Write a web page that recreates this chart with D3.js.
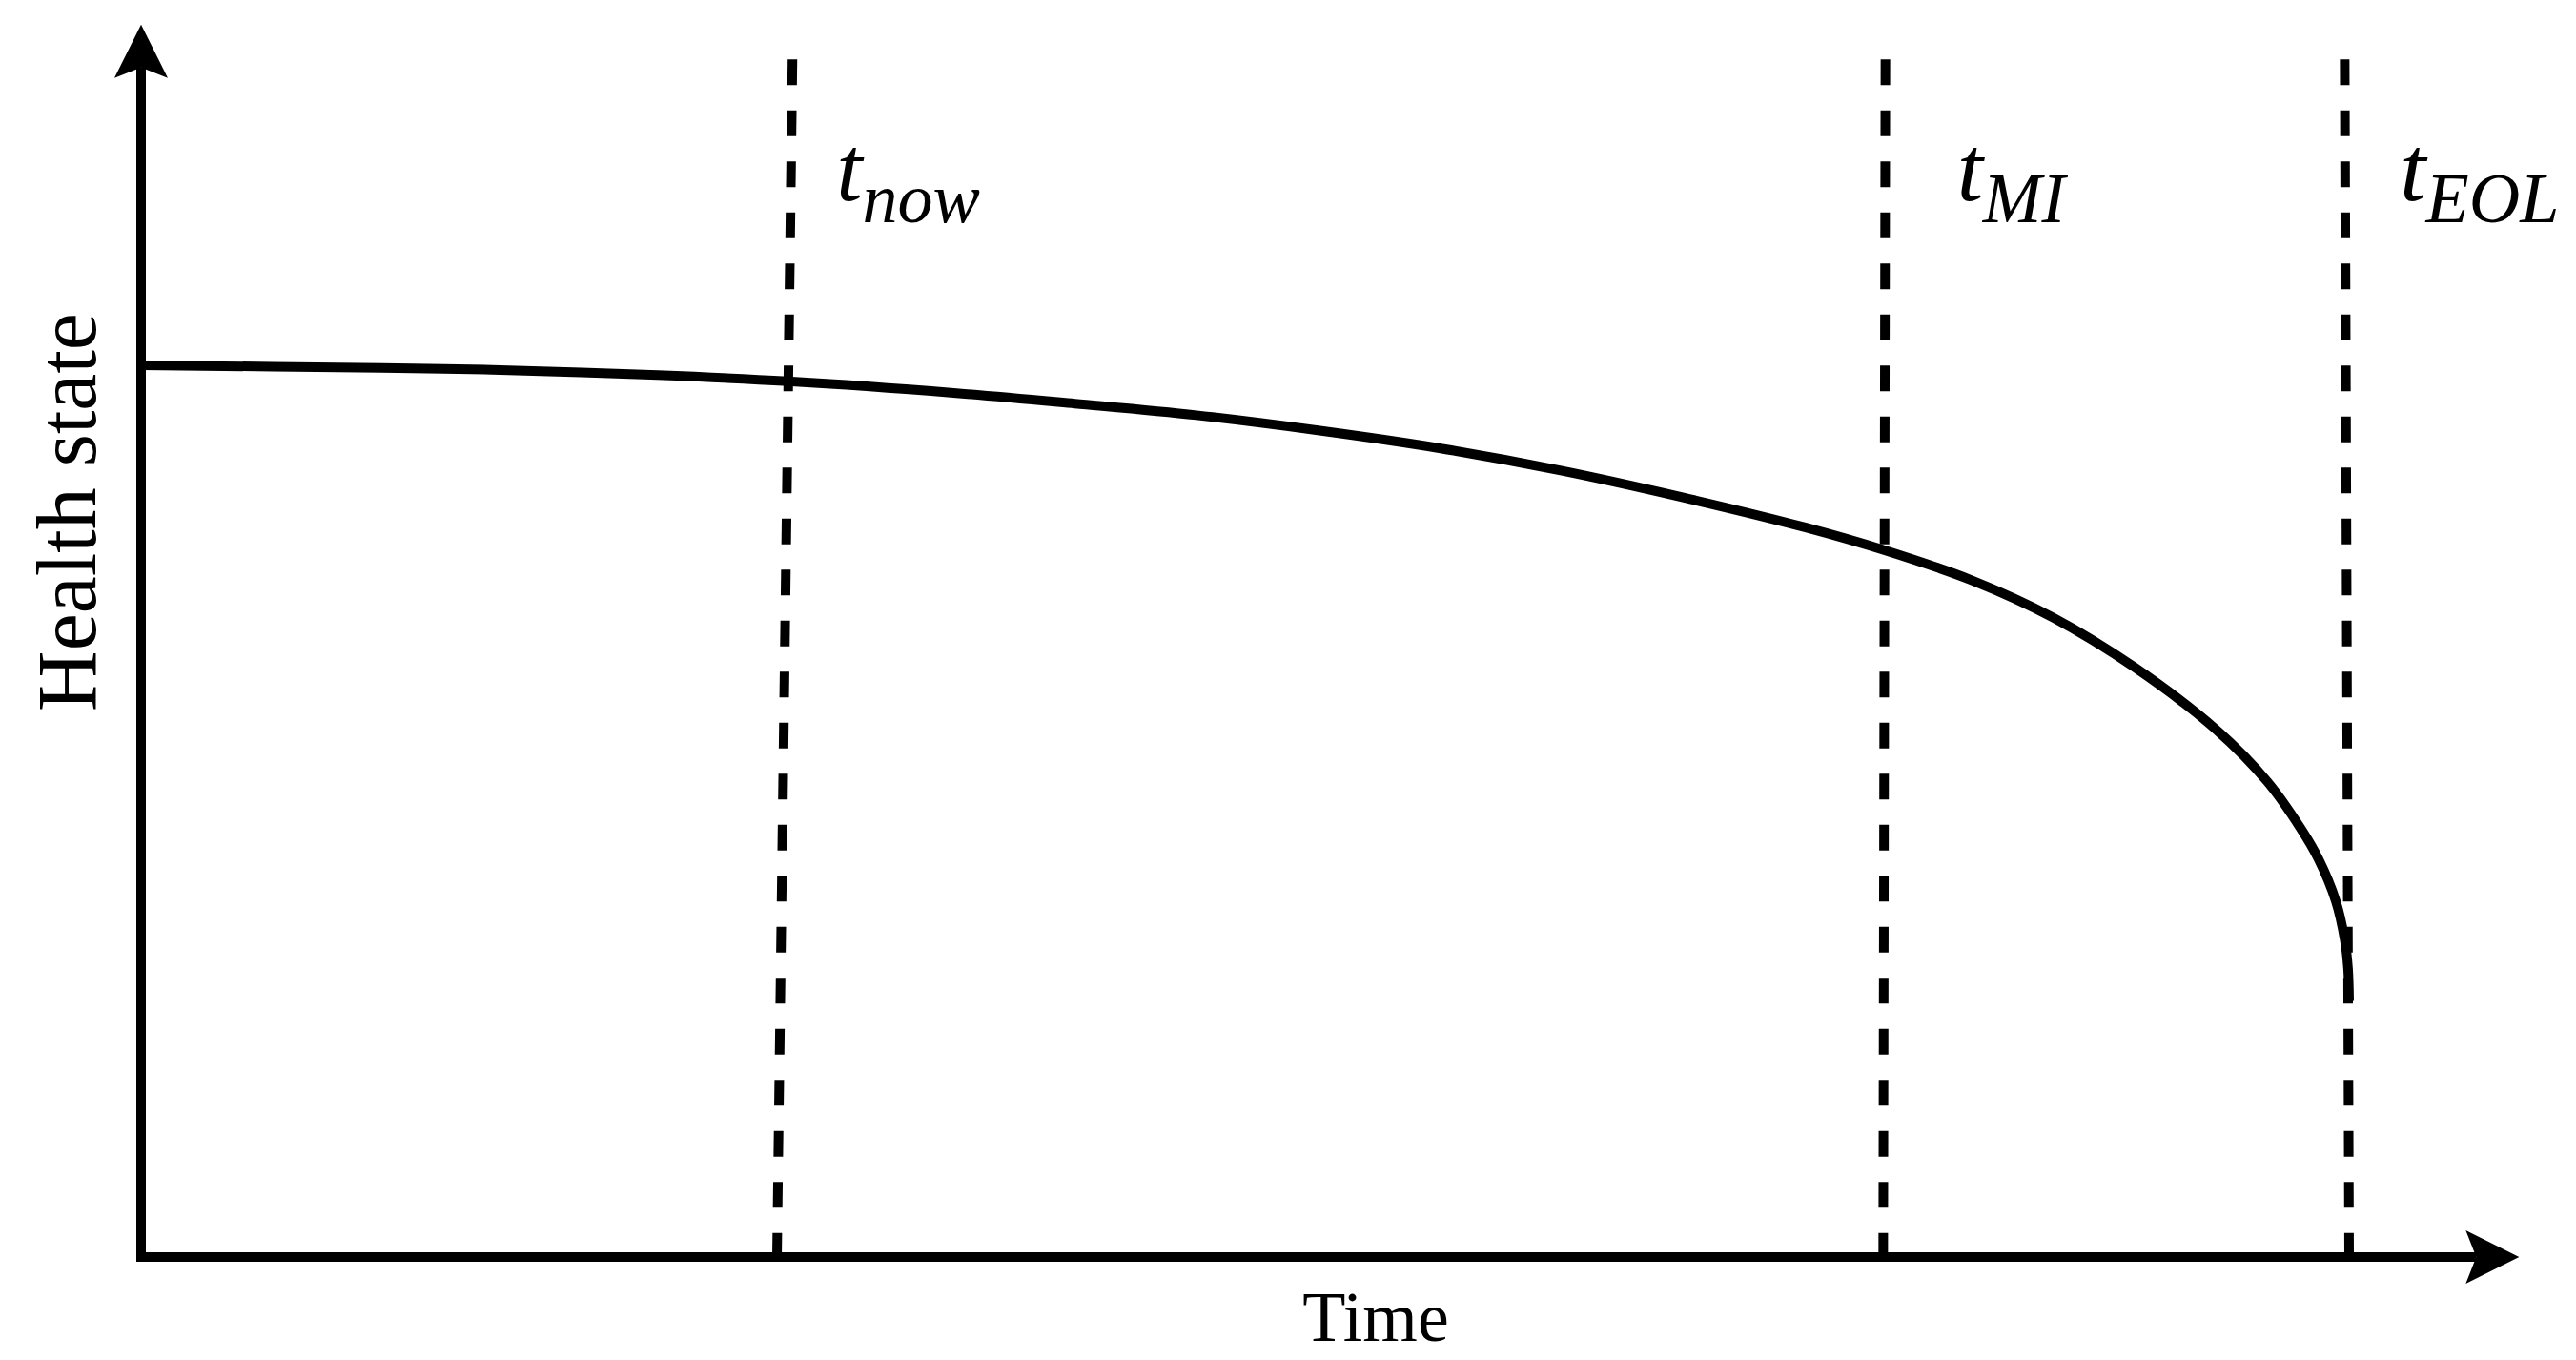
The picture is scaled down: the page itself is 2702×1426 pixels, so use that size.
<!DOCTYPE html>
<html><head><meta charset="utf-8">
<script src="https://cdn.jsdelivr.net/npm/d3@7"></script>
<style>html,body{margin:0;padding:0;background:#fff;} svg{display:block}</style>
</head><body>
<script>
// Data (abstract units: time 0..100 = start..EOL, health 0..100 = axis..initial)
const times  = [0,10.9,15.9,23.4,29.3,36.8,42.3,47.8,53.3,58.8,64.3,69.8,75.4,78.9,82.9,86.6,90.3,94.0,96.3,97.8,98.6,99.4,99.8,99.95,100];
const health = [100,99.7,99.5,98.9,98.2,96.9,95.7,94.4,92.7,90.7,88.2,85.2,81.8,79.3,75.9,71.7,66.1,59.1,53.3,48.1,44.7,39.9,35.6,32.4,28.7];
const markerNames  = ["now","MI","EOL"];
const markerTop    = [29.5, 79.0, 99.8];
const markerBottom = [28.8, 78.9, 100];
const xLabel = "Time";
const yLabel = "Health state";
const timeMax = 107.7, healthMax = 138.2, markerTopHealth = 134.3;

const W = 2702, H = 1426;
const font = "'Liberation Serif','Times New Roman',serif";
const svg = d3.select("body").append("svg").attr("width", W).attr("height", H);

const x = d3.scaleLinear().domain([0,100]).range([148, 2464]);
const y = d3.scaleLinear().domain([0,100]).range([1318, 383]);

const x0 = x(0), y0 = y(0);
// axes
svg.append("line").attr("x1", x0).attr("x2", x0).attr("y1", y0 + 5).attr("y2", y(healthMax) + 45)
  .attr("stroke", "#000").attr("stroke-width", 10);
svg.append("line").attr("x1", x0 - 5).attr("x2", x(timeMax) - 45).attr("y1", y0).attr("y2", y0)
  .attr("stroke", "#000").attr("stroke-width", 10);
// arrowheads
const yt = y(healthMax), xt = x(timeMax);
svg.append("path").attr("d", `M${x0},${yt} L${x0+28},${yt+56} L${x0},${yt+45} L${x0-28},${yt+56} Z`).attr("fill", "#000");
svg.append("path").attr("d", `M${xt},${y0} L${xt-56},${y0+28} L${xt-45},${y0} L${xt-56},${y0-28} Z`).attr("fill", "#000");

// dashed marker lines
const labelOffsets = [46, 75, 58];
markerNames.forEach((n, i) => {
  svg.append("line")
    .attr("x1", x(markerTop[i])).attr("y1", y(markerTopHealth))
    .attr("x2", x(markerBottom[i])).attr("y2", y0)
    .attr("stroke", "#000").attr("stroke-width", 10)
    .attr("stroke-dasharray", "27 26.5");
  const t = svg.append("text")
    .attr("x", x(markerTop[i]) + labelOffsets[i]).attr("y", 210)
    .attr("font-family", font).attr("font-style", "italic")
    .attr("font-size", 98).attr("fill", "#000");
  t.append("tspan").text("t");
  t.append("tspan").attr("dy", 23).attr("font-size", 74).text(n);
});

// curve
const pts = times.map((t, i) => [t, health[i]]);
svg.append("path").datum(pts)
  .attr("d", d3.line().x(d => x(d[0])).y(d => y(d[1])).curve(d3.curveCatmullRom.alpha(0.5)))
  .attr("fill", "none").attr("stroke", "#000").attr("stroke-width", 10);

// axis labels
svg.append("text").attr("x", 1443).attr("y", 1406).attr("text-anchor", "middle")
  .attr("font-family", font).attr("font-size", 74).attr("fill", "#000").text(xLabel);
svg.append("text").attr("transform", "translate(100,537) rotate(-90)").attr("text-anchor", "middle")
  .attr("font-family", font).attr("font-size", 88).attr("fill", "#000").text(yLabel);
</script>
</body></html>
